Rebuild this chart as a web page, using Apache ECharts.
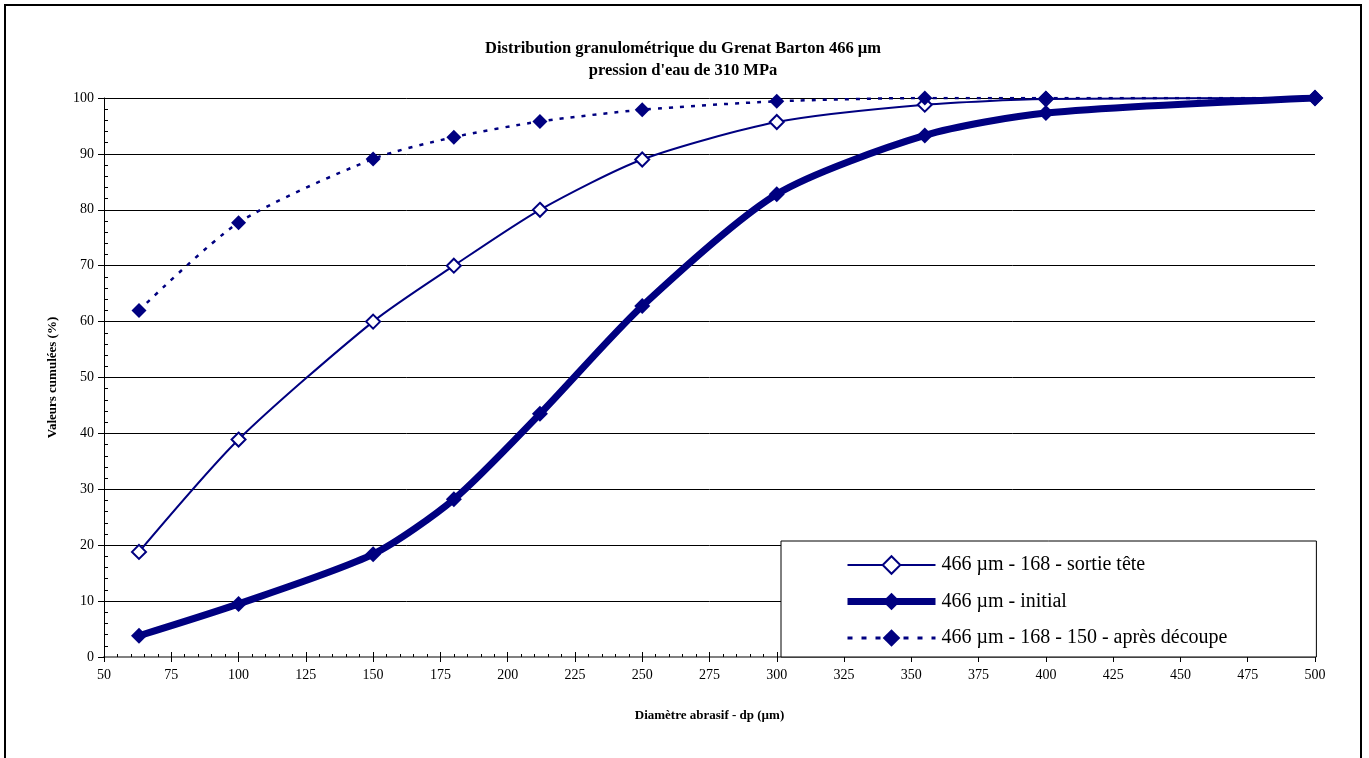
<!DOCTYPE html>
<html><head><meta charset="utf-8">
<script src="https://cdn.jsdelivr.net/npm/echarts@6/dist/echarts.min.js"></script>
<style>html,body{margin:0;padding:0;background:#fff}#c{width:1369px;height:758px}</style>
</head><body><div id="c"></div>
<script>
const diameters = [63, 100, 150, 180, 212, 250, 300, 355, 400, 500];
const sortieTete = [18.8, 38.9, 60, 70, 80, 89, 95.7, 98.8, 99.8, 100];
const initial = [3.8, 9.5, 18.4, 28.2, 43.5, 62.8, 82.8, 93.3, 97.3, 100];
const apresDecoupe = [62, 77.7, 89.1, 93, 95.8, 97.9, 99.4, 100, 100, 100];
const seriesNames = ['466 µm - 168 - sortie tête', '466 µm - initial', '466 µm - 168 - 150 - après découpe'];
const titleText = 'Distribution granulométrique du Grenat Barton 466 µm\npression d\'eau de 310 MPa';
const xName = 'Diamètre abrasif - dp (µm)';
const yName = 'Valeurs cumulées (%)';

const pair = v => diameters.map((d, i) => [d, v[i]]);
const navy = '#000080';
const font = 'Liberation Serif';
const chart = echarts.init(document.getElementById('c'));
chart.setOption({
  backgroundColor: '#fff',
  animation: false,
  title: {
    text: titleText, left: 678, top: 33, textAlign: 'center',
    textStyle: { fontFamily: font, fontSize: 16.5, fontWeight: 'bold', color: '#000', lineHeight: 22 }
  },
  graphic: [{
    type: 'rect', shape: { x: 5, y: 5, width: 1356, height: 760 },
    style: { fill: 'none', stroke: '#000', lineWidth: 2 }, silent: true, z: -1
  }],
  grid: { left: 104, right: 54, top: 98, bottom: 101 },
  legend: {
    orient: 'vertical', left: 781, top: 541,
    backgroundColor: '#fff', borderColor: '#000', borderWidth: 1,
    padding: [13, 89, 8, 63], itemWidth: 88, itemHeight: 22, itemGap: 14.5,
    textStyle: { fontFamily: font, fontSize: 20, color: '#000', lineHeight: 22, padding: [0, 0, 0, 1] },
    data: [
      { name: seriesNames[0], lineStyle: { width: 2 }, itemStyle: { color: '#fff', borderColor: navy, borderWidth: 2 } },
      { name: seriesNames[1], lineStyle: { width: 7 } },
      { name: seriesNames[2], lineStyle: { width: 3, type: [5, 9] } }
    ]
  },
  xAxis: [{
    type: 'value', min: 50, max: 500, interval: 25,
    name: xName, nameLocation: 'middle', nameGap: 52,
    nameTextStyle: { fontFamily: font, fontSize: 13, fontWeight: 'bold', color: '#000' },
    axisLine: { lineStyle: { color: '#808080', width: 2 } },
    axisTick: { show: true, length: 5, lineStyle: { color: '#000' } },
    axisLabel: { fontFamily: font, fontSize: 14, color: '#000', margin: 11 },
    splitLine: { show: false }
  }, {
    type: 'value', min: 50, max: 500, interval: 25, position: 'top', offset: -559,
    axisLine: { show: false }, axisLabel: { show: false },
    axisTick: { show: true, length: 5, lineStyle: { color: '#000' } },
    minorTick: { show: true, splitNumber: 5, length: 3, lineStyle: { color: '#000' } },
    splitLine: { show: false }
  }],
  yAxis: [{
    type: 'value', min: 0, max: 100, interval: 10,
    name: yName, nameLocation: 'middle', nameGap: 45, nameRotate: 90,
    nameTextStyle: { fontFamily: font, fontSize: 13, fontWeight: 'bold', color: '#000' },
    axisLine: { show: true, lineStyle: { color: '#000', width: 1 } },
    axisTick: { show: true, length: 6, lineStyle: { color: '#000' } },
    axisLabel: { fontFamily: font, fontSize: 14, color: '#000', margin: 10 },
    splitLine: { show: true, lineStyle: { color: '#000', width: 1 } }
  }, {
    type: 'value', min: 0, max: 100, interval: 10, position: 'right', offset: -1211,
    axisLine: { show: false }, axisLabel: { show: false },
    axisTick: { show: false },
    minorTick: { show: true, splitNumber: 5, length: 4, lineStyle: { color: '#000' } },
    splitLine: { show: false }
  }],
  series: [{
    name: seriesNames[0], type: 'line', smooth: 0.25, data: pair(sortieTete),
    symbol: 'diamond', symbolSize: 14, color: navy,
    lineStyle: { color: navy, width: 2 },
    itemStyle: { color: '#fff', borderColor: navy, borderWidth: 2 }
  }, {
    name: seriesNames[1], type: 'line', smooth: 0.25, data: pair(initial),
    symbol: 'diamond', symbolSize: 16, color: navy,
    lineStyle: { color: navy, width: 7 },
    itemStyle: { color: navy }
  }, {
    name: seriesNames[2], type: 'line', smooth: 0.25, data: pair(apresDecoupe),
    symbol: 'diamond', symbolSize: 15, color: navy,
    lineStyle: { color: navy, width: 2.5, type: [4, 7] },
    itemStyle: { color: navy }
  }]
});
</script></body></html>
